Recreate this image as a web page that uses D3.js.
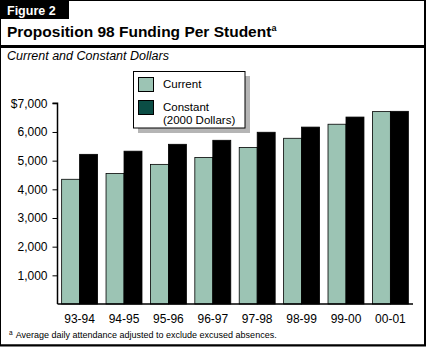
<!DOCTYPE html>
<html><head><meta charset="utf-8">
<script src="https://cdn.jsdelivr.net/npm/d3@7"></script>
<style>
html,body{margin:0;padding:0;background:#fff;}
svg{display:block;font-family:"Liberation Sans",Arial,sans-serif;}
</style></head>
<body>
<script>
const categories = ["93-94","94-95","95-96","96-97","97-98","98-99","99-00","00-01"];
const currentValues = [4350, 4550, 4870, 5110, 5460, 5780, 6270, 6710];
const constantValues = [5220, 5330, 5570, 5710, 5990, 6170, 6520, 6720];
const seriesNames = ["Current", "Constant"];
const yTicks = [1000, 2000, 3000, 4000, 5000, 6000, 7000];

const W = 427, H = 347;
const svg = d3.select("body").append("svg").attr("width", W).attr("height", H);

// frame
svg.append("rect").attr("x",0.5).attr("y",0.5).attr("width",424).attr("height",344.5)
  .attr("fill","#fff").attr("stroke","#000").attr("stroke-width",1);
svg.append("line").attr("x1",425).attr("x2",425).attr("y1",0).attr("y2",346).attr("stroke","#000").attr("stroke-width",2);
svg.append("line").attr("x1",0).attr("x2",426).attr("y1",345.5).attr("y2",345.5).attr("stroke","#000").attr("stroke-width",2);
// figure label box
svg.append("rect").attr("x",0).attr("y",0).attr("width",69).attr("height",19).attr("fill","#000");
svg.append("text").attr("x",7).attr("y",15).attr("fill","#fff").attr("font-weight","bold")
  .attr("font-size",12.5).text("Figure 2");
// title
const t = svg.append("text").attr("x",7).attr("y",37).attr("font-weight","bold").attr("font-size",15.5).attr("fill","#000");
t.append("tspan").text("Proposition 98 Funding Per Student");
t.append("tspan").attr("font-size",9).attr("dy",-6).text("a");
svg.append("rect").attr("x",0).attr("y",45).attr("width",426).attr("height",3).attr("fill","#000");
svg.append("text").attr("x",7).attr("y",60).attr("font-style","italic").attr("font-size",12.5).text("Current and Constant Dollars");

// scales
const y = d3.scaleLinear().domain([0,7000]).range([304,103.3]);
const x0 = d3.scaleBand().domain(categories).range([57.2,412.8]).paddingInner(0.19).paddingOuter(0.1);
const x1 = d3.scaleBand().domain(seriesNames).range([0,x0.bandwidth()]);
const colors = {Current:"#9cc4b4", Constant:"#000"};

const data = categories.map((c,i)=>({cat:c, vals:[{s:"Current",v:currentValues[i]},{s:"Constant",v:constantValues[i]}]}));
const g = svg.append("g");
g.selectAll("g.grp").data(data).join("g").attr("class","grp")
  .attr("transform",d=>`translate(${x0(d.cat)},0)`)
  .selectAll("rect").data(d=>d.vals).join("rect")
  .attr("x",d=>x1(d.s)).attr("width",x1.bandwidth())
  .attr("y",d=>y(d.v)).attr("height",d=>y(0)-y(d.v))
  .attr("fill",d=>colors[d.s]).attr("stroke","#000").attr("stroke-width",0.8);

// y axis
const yAxis = d3.axisLeft(y).tickValues(yTicks).tickSize(5).tickPadding(5)
  .tickFormat(d=> d===7000 ? "$" + d3.format(",")(d) : d3.format(",")(d));
const ya = svg.append("g").attr("transform","translate(57.5,0)").call(yAxis);
ya.select(".domain").attr("d","M-5,103.3H0V304");
ya.selectAll("text").attr("font-size",12).attr("font-family","Liberation Sans, Arial, sans-serif").attr("fill","#000");
ya.selectAll("line").attr("stroke","#000");
ya.select(".domain").attr("stroke","#000").attr("stroke-width",1.5);

// x axis
const xAxis = d3.axisBottom(x0).tickSize(0).tickPadding(10);
const xa = svg.append("g").attr("transform","translate(0,304)").call(xAxis);
xa.select(".domain").attr("d","M57.5,0H413").attr("stroke","#000").attr("stroke-width",1.5);
xa.selectAll("text").attr("font-size",12).attr("font-family","Liberation Sans, Arial, sans-serif").attr("fill","#000");

// legend
svg.append("rect").attr("x",138).attr("y",76).attr("width",112).attr("height",57).attr("fill","#b5b5b5");
svg.append("rect").attr("x",133.5).attr("y",71.5).attr("width",111.5).attr("height",56.5).attr("fill","#fff").attr("stroke","#000").attr("stroke-width",1);
const legendColors = {Current:"#9cc4b4", Constant:"#0b4d45"};
const legendLabels = [["Current"],["Constant","(2000 Dollars)"]];
const ly = [77, 100];
seriesNames.forEach((s,i)=>{
  svg.append("rect").attr("x",138.5).attr("y",ly[i]+0.5).attr("width",15).attr("height",14)
    .attr("fill",legendColors[s]).attr("stroke","#000").attr("stroke-width",1);
  legendLabels[i].forEach((txt,j)=>{
    svg.append("text").attr("x",163).attr("y",ly[i]+11+j*12.5).attr("font-size",11.5).text(txt);
  });
});

// footnote
const f = svg.append("text").attr("x",9).attr("y",337.5).attr("font-size",9);
f.append("tspan").attr("font-size",6.5).attr("dy",-3).text("a");
f.append("tspan").attr("dy",3).attr("dx",3).text("Average daily attendance adjusted to exclude excused absences.");
</script>
</body></html>
